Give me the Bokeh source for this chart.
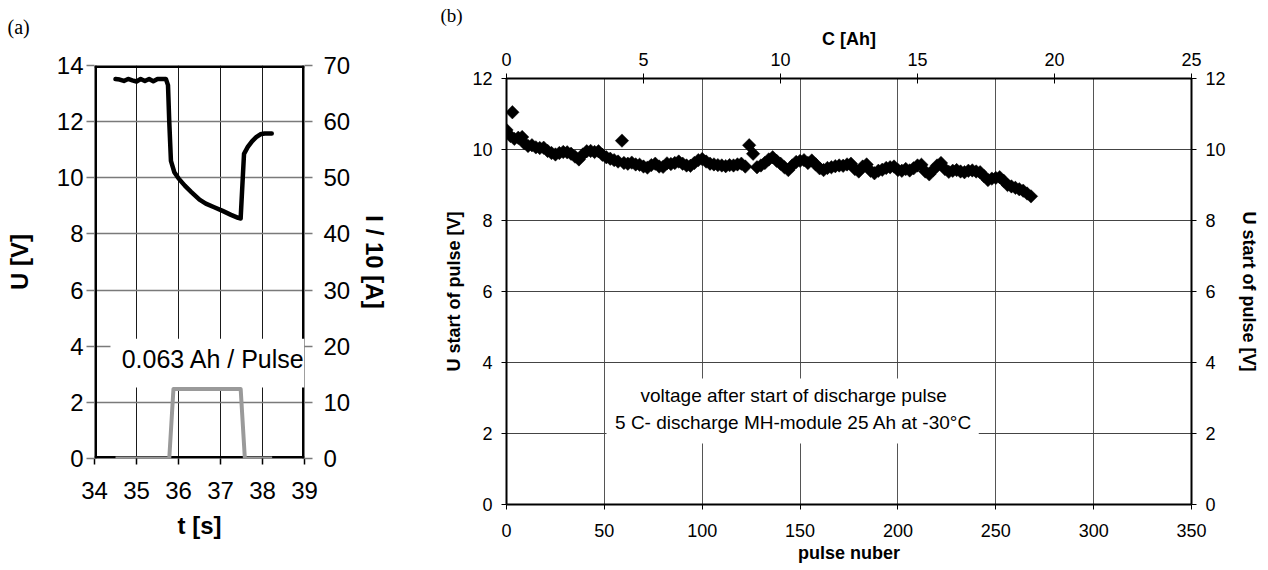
import math
from bokeh.plotting import figure
from bokeh.models import Range1d, LinearAxis, FixedTicker, Label
from bokeh.layouts import row, column
from bokeh.embed import file_html
from bokeh.resources import INLINE

# ---------------- Panel (a) data ----------------
t_voltage = [34.50, 34.60, 34.70, 34.80, 34.90, 35.00, 35.10, 35.20, 35.30, 35.40,
             35.50, 35.60, 35.70, 35.75, 35.78, 35.82, 35.90, 36.00, 36.15, 36.30,
             36.50, 36.65, 36.85, 37.05, 37.25, 37.42, 37.48, 37.53, 37.56, 37.65,
             37.75, 37.85, 37.95, 38.05, 38.22]
u_voltage = [13.52, 13.50, 13.45, 13.52, 13.47, 13.43, 13.52, 13.45, 13.52, 13.44,
             13.52, 13.52, 13.52, 13.30, 12.00, 10.60, 10.20, 9.98, 9.72, 9.50,
             9.22, 9.08, 8.95, 8.82, 8.68, 8.57, 8.55, 10.00, 10.85, 11.10,
             11.30, 11.45, 11.55, 11.58, 11.58]
t_current = [34.50, 35.78, 35.88, 37.48, 37.58, 38.23]
i_current = [0.0, 0.0, 12.4, 12.4, 0.0, 0.0]
a_t_ticks = [34, 35, 36, 37, 38, 39]
a_u_ticks = [0, 2, 4, 6, 8, 10, 12, 14]
a_i_ticks = [0, 10, 20, 30, 40, 50, 60, 70]
a_note = "0.063 Ah / Pulse"

# ---------------- Panel (b) data ----------------
pulse_no = [0, 2, 3, 4, 6, 8, 9, 11, 13, 15, 17, 19, 21, 23, 25, 27, 29, 31, 33, 35,
            37, 39, 41, 43, 45, 47, 49, 51, 53, 55, 57, 59, 60, 62, 64, 66, 68, 70, 72, 74,
            76, 78, 80, 82, 84, 86, 88, 90, 92, 94, 96, 98, 100, 102, 104, 106, 108, 110, 112, 114,
            116, 118, 120, 122, 124, 126, 128, 130, 132, 134, 136, 138, 140, 142, 144, 146, 148, 150, 152, 154,
            156, 158, 160, 162, 164, 166, 168, 170, 172, 174, 176, 178, 180, 182, 184, 186, 188, 190, 192, 194,
            196, 198, 200, 202, 204, 206, 208, 210, 212, 214, 216, 218, 220, 222, 224, 226, 228, 230, 232, 234,
            236, 238, 240, 242, 244, 246, 248, 250, 252, 254, 256, 258, 260, 262, 264, 266, 268]
u_start = [10.55, 10.38, 11.05, 10.30, 10.33, 10.35, 10.18, 10.10, 10.12, 10.06, 10.04, 10.05, 9.96, 9.90, 9.86, 9.90, 9.93, 9.92, 9.88, 9.80,
           9.72, 9.86, 9.95, 9.96, 9.93, 9.95, 9.85, 9.78, 9.74, 9.70, 9.66, 10.25, 9.62, 9.60, 9.63, 9.58, 9.57, 9.52, 9.49, 9.56,
           9.60, 9.52, 9.51, 9.61, 9.59, 9.62, 9.66, 9.60, 9.55, 9.54, 9.62, 9.70, 9.73, 9.66, 9.60, 9.58, 9.56, 9.55, 9.53, 9.56,
           9.55, 9.58, 9.60, 9.52, 10.12, 9.88, 9.50, 9.55, 9.62, 9.72, 9.78, 9.68, 9.60, 9.50, 9.42, 9.55, 9.65, 9.68, 9.70, 9.62,
           9.69, 9.58, 9.47, 9.42, 9.48, 9.50, 9.53, 9.55, 9.54, 9.58, 9.60, 9.45, 9.38, 9.52, 9.58, 9.40, 9.33, 9.40, 9.43, 9.48,
           9.50, 9.52, 9.42, 9.40, 9.45, 9.41, 9.47, 9.55, 9.57, 9.38, 9.30, 9.42, 9.55, 9.62, 9.45, 9.37, 9.40, 9.42, 9.38, 9.36,
           9.40, 9.41, 9.38, 9.36, 9.25, 9.14, 9.18, 9.20, 9.22, 9.12, 9.00, 8.96, 8.92, 8.88, 8.84, 8.76, 8.68]
b_pulse_ticks = [0, 50, 100, 150, 200, 250, 300, 350]
b_u_ticks = [0, 2, 4, 6, 8, 10, 12]
b_c_ticks = [0, 5, 10, 15, 20, 25]
b_note1 = "voltage after start of discharge pulse"
b_note2 = "5 C- discharge MH-module 25 Ah at -30°C"

FONT = "Liberation Sans"
SERIF = "Liberation Serif"

# ================= Panel (a) =================
pa = figure(width=428, height=570, output_backend="svg", toolbar_location=None,
            x_range=Range1d(a_t_ticks[0], a_t_ticks[-1]),
            y_range=Range1d(a_u_ticks[0], a_u_ticks[-1]),
            min_border_left=94, min_border_right=124, min_border_top=65, min_border_bottom=112)
pa.extra_y_ranges = {"cur": Range1d(a_i_ticks[0], a_i_ticks[-1])}
pa.outline_line_color = None
pa.background_fill_color = "white"
pa.border_fill_color = "white"
pa.title.text = "(a)\n\u00a0"
pa.title.align = "left"
pa.title.vertical_align = "top"
pa.title.offset = -87
pa.title.standoff = 0
pa.title.text_line_height = 1.2
pa.title.text_font = SERIF
pa.title.text_font_size = "20px"
pa.title.text_font_style = "normal"
pa.title.text_color = "black"

ax_t = pa.below[0]
ax_u = pa.left[0]
ax_i = LinearAxis(y_range_name="cur")
pa.add_layout(ax_i, "right")

ax_t.ticker = FixedTicker(ticks=a_t_ticks)
ax_u.ticker = FixedTicker(ticks=a_u_ticks)
ax_i.ticker = FixedTicker(ticks=a_i_ticks)
pa.xgrid.ticker = FixedTicker(ticks=a_t_ticks)
pa.ygrid.ticker = FixedTicker(ticks=a_u_ticks)
pa.xgrid.grid_line_color = "#1a1a1a"
pa.xgrid.grid_line_width = 1
pa.ygrid.grid_line_color = "#7a7a7a"
pa.ygrid.grid_line_width = 1.5

for ax in [ax_t, ax_u, ax_i]:
    ax.axis_line_color = None
    ax.major_tick_in = 0
    ax.major_tick_out = 8
    ax.major_tick_line_color = "#7a7a7a"
    ax.major_tick_line_width = 1.5
    ax.minor_tick_line_color = None
    ax.major_label_text_font = FONT
    ax.major_label_text_font_size = "24px"
    ax.major_label_text_color = "black"
    ax.axis_label_text_font = FONT
    ax.axis_label_text_font_size = "24px"
    ax.axis_label_text_font_style = "bold"
    ax.axis_label_text_color = "black"

ax_t.axis_label = "t [s]"
ax_t.major_tick_out = 6
ax_t.major_tick_line_color = "black"
ax_t.major_label_standoff = 17
ax_t.axis_label_standoff = 10
ax_u.axis_label = "U [V]"
ax_u.major_label_standoff = 3
ax_u.axis_label_standoff = 21
ax_i.axis_label = "I / 10 [A]"
ax_i.major_label_standoff = 11
ax_i.axis_label_standoff = 8

# frame borders (as glyphs so that the note box can interrupt them)
t0, t1 = a_t_ticks[0], a_t_ticks[-1]
u0, u1 = a_u_ticks[0], a_u_ticks[-1]
pa.segment(x0=[t0, t1, t0, t0], y0=[u0, u0, u1, u0], x1=[t0, t1, t1, t1], y1=[u1, u1, u1, u0],
           line_color="black", line_width=5)
# white box behind the note
pa.quad(left=[34.38], right=[t1], bottom=[2.53], top=[4.27], fill_color="white", line_color=None)
# current (gray) and voltage (black)
pa.line(t_current, i_current, y_range_name="cur", line_color="#9a9a9a", line_width=4, line_join="round")
pa.line(t_voltage, u_voltage, line_color="black", line_width=4.5, line_join="round", line_cap="round")
pa.add_layout(Label(x=36.83, y=3.56, text=a_note, text_align="center", text_baseline="middle",
                    text_font=FONT, text_font_size="25px", text_color="black"))

# ================= Panel (b) =================
pb = figure(width=840, height=570, output_backend="svg", toolbar_location=None,
            x_range=Range1d(b_pulse_ticks[0], b_pulse_ticks[-1]),
            y_range=Range1d(b_u_ticks[0], b_u_ticks[-1]),
            min_border_left=78, min_border_right=77, min_border_top=78, min_border_bottom=66)
pb.extra_x_ranges = {"ah": Range1d(b_c_ticks[0], b_c_ticks[-1])}
pb.extra_y_ranges = {"r": Range1d(b_u_ticks[0], b_u_ticks[-1])}
pb.outline_line_color = None
pb.background_fill_color = "white"
pb.border_fill_color = "white"
pb.title.text = "(b)"
pb.title.align = "left"
pb.title.offset = -66
pb.title.standoff = 0
pb.title.text_font = SERIF
pb.title.text_font_size = "19px"
pb.title.text_font_style = "normal"
pb.title.text_color = "black"

ax_p = pb.below[0]
ax_ul = pb.left[0]
ax_c = LinearAxis(x_range_name="ah")
pb.add_layout(ax_c, "above")
ax_ur = LinearAxis(y_range_name="r")
pb.add_layout(ax_ur, "right")

ax_p.ticker = FixedTicker(ticks=b_pulse_ticks)
ax_ul.ticker = FixedTicker(ticks=b_u_ticks)
ax_c.ticker = FixedTicker(ticks=b_c_ticks)
ax_ur.ticker = FixedTicker(ticks=b_u_ticks)
pb.xgrid.ticker = FixedTicker(ticks=b_pulse_ticks)
pb.ygrid.ticker = FixedTicker(ticks=b_u_ticks)
pb.xgrid.grid_line_color = "#555555"
pb.xgrid.grid_line_width = 1
pb.ygrid.grid_line_color = "#444444"
pb.ygrid.grid_line_width = 1.2

for ax in [ax_p, ax_ul, ax_c, ax_ur]:
    ax.axis_line_color = "black"
    ax.axis_line_width = 2
    ax.major_tick_in = 0
    ax.major_tick_out = 5
    ax.major_tick_line_color = "black"
    ax.major_tick_line_width = 1
    ax.minor_tick_line_color = None
    ax.major_label_text_font = FONT
    ax.major_label_text_font_size = "18px"
    ax.major_label_text_color = "black"
    ax.axis_label_text_font = FONT
    ax.axis_label_text_font_size = "18px"
    ax.axis_label_text_font_style = "bold"
    ax.axis_label_text_color = "black"

ax_p.axis_label = "pulse nuber"
ax_p.major_label_standoff = 14
ax_p.axis_label_standoff = 3
ax_ul.axis_label = "U start of pulse [V]"
ax_ul.major_label_standoff = 9
ax_ul.axis_label_standoff = 5
ax_c.axis_label = "C [Ah]"
ax_c.major_tick_in = 5
ax_c.major_label_standoff = 8
ax_c.axis_label_standoff = 1
ax_ur.axis_label = "U start of pulse [V]"
ax_ur.major_label_standoff = 9
ax_ur.axis_label_standoff = 10

# white box behind the note text (interrupts grid lines)
pb.quad(left=[51.1], right=[241.3], bottom=[1.72], top=[3.55], fill_color="white", line_color=None)
pb.scatter(pulse_no, u_start, marker="square", angle=math.pi / 4, size=9.5,
           fill_color="black", line_color="black", line_width=0.5)
pb.add_layout(Label(x=146.7, y=3.07, text=b_note1, text_align="center", text_baseline="middle",
                    text_font=FONT, text_font_size="19px", text_color="black"))
pb.add_layout(Label(x=146.7, y=2.31, text=b_note2, text_align="center", text_baseline="middle",
                    text_font=FONT, text_font_size="19px", text_color="black"))

layout = row(column(pa), column(pb))
open("out.html", "w").write(file_html(layout, INLINE))
